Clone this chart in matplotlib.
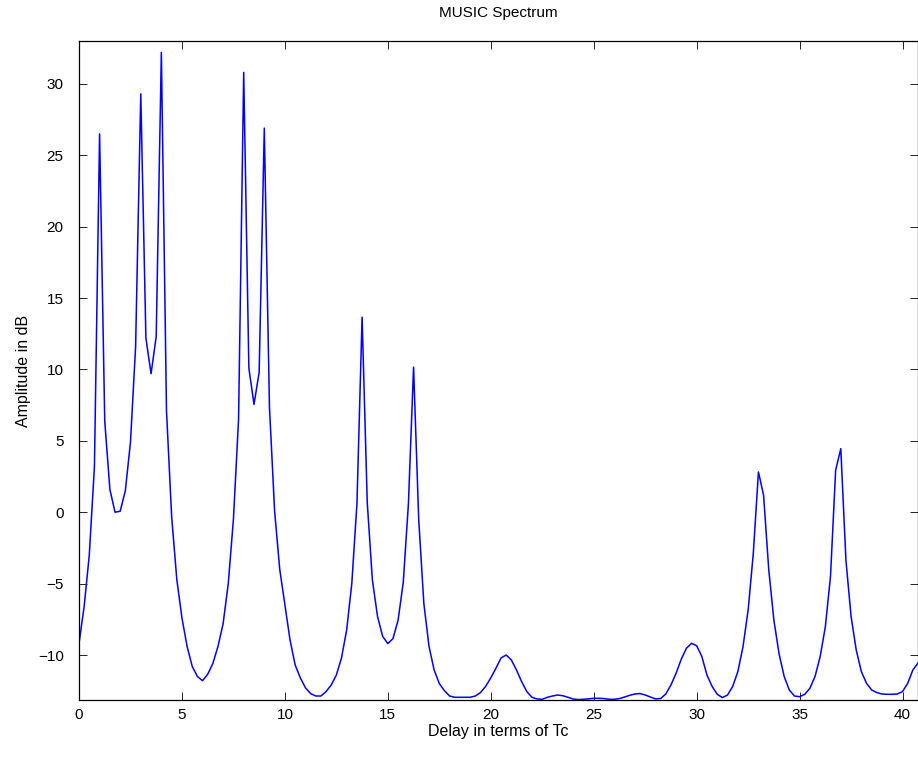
import numpy as np
import matplotlib.pyplot as plt

plt.rcParams['font.family'] = ['Liberation Sans', 'DejaVu Sans']

# delay axis, sampled every 0.25 Tc
delay = np.arange(0, 40.76, 0.25)

# MUSIC pseudo-spectrum in dB
amp_db = [
    -9.2, -6.6, -3.0, 3.2, 26.5, 6.4, 1.6, 0.0,            # 0 - 1.75
    0.07, 1.5, 4.9, 11.6, 29.3, 12.2, 9.7, 12.3,           # 2 - 3.75
    32.2, 7.1, -0.3, -4.7, -7.4, -9.4, -10.8, -11.5,       # 4 - 5.75
    -11.8, -11.35, -10.6, -9.4, -7.8, -5.0, -0.5, 6.5,     # 6 - 7.75
    30.8, 10.1, 7.55, 9.8, 26.9, 7.4, 0.1, -4.0,           # 8 - 9.75
    -6.5, -8.95, -10.7, -11.6, -12.3, -12.7, -12.87, -12.87,  # 10 - 11.75
    -12.56, -12.1, -11.4, -10.2, -8.25, -5.0, 0.6, 13.66,  # 12 - 13.75
    0.7, -4.75, -7.3, -8.7, -9.2, -8.85, -7.55, -4.9,      # 14 - 15.75
    0.6, 10.16, -0.5, -6.4, -9.4, -11.05, -12.0, -12.5,    # 16 - 17.75
    -12.87, -12.96, -12.96, -12.96, -12.96, -12.87, -12.63, -12.2,  # 18 - 19.75
    -11.6, -10.93, -10.2, -10.0, -10.35, -11.05, -11.87, -12.56,    # 20 - 21.75
    -12.96, -13.08, -13.1, -12.96, -12.87, -12.8, -12.85, -12.96,   # 22 - 23.75
    -13.08, -13.12, -13.1, -13.07, -13.03, -13.03, -13.05, -13.1,   # 24 - 25.75
    -13.1, -13.05, -12.94, -12.82, -12.73, -12.7, -12.8, -12.94,    # 26 - 27.75
    -13.07, -13.05, -12.73, -12.1, -11.28, -10.3, -9.53, -9.18,     # 28 - 29.75
    -9.35, -10.1, -11.4, -12.2, -12.75, -12.98, -12.8, -12.2,       # 30 - 31.75
    -11.17, -9.42, -6.85, -2.9, 2.82, 1.19, -4.0, -7.55,            # 32 - 33.75
    -9.9, -11.5, -12.45, -12.87, -12.92, -12.75, -12.33, -11.5,     # 34 - 35.75
    -10.1, -8.02, -4.5, 2.94, 4.45, -3.36, -7.3, -9.65,             # 36 - 37.75
    -11.17, -11.98, -12.45, -12.63, -12.73, -12.75, -12.75, -12.73, # 38 - 39.75
    -12.56, -11.98, -11.05, -10.56,                                 # 40 - 40.75
]

xticks = np.arange(0, 41, 5)
yticks = np.arange(-10, 31, 5)

fig = plt.figure(figsize=(9.18, 7.58), dpi=100)
ax = fig.add_axes([79/918, 58/758, 839/918, 659/758])

ax.plot(delay, amp_db, color='#0000ff', linewidth=1.1)

ax.set_xlim(0, 40.75)
ax.set_ylim(-13.15, 33.0)
ax.set_xticks(xticks)
ax.set_yticks(yticks)
ax.tick_params(direction='in', length=5.8, width=0.6, top=True, right=True,
               labelsize=11)
ax.tick_params(axis='y', pad=11)
ax.tick_params(axis='x', pad=6)
for s in ax.spines.values():
    s.set_linewidth(0.9)

ax.set_title('MUSIC Spectrum', fontsize=11, pad=17)
ax.set_xlabel('Delay in terms of Tc', fontsize=11.5, labelpad=1)
ax.set_ylabel('Amplitude in dB', fontsize=11.5, labelpad=5)

plt.savefig('out.png', dpi=100)
